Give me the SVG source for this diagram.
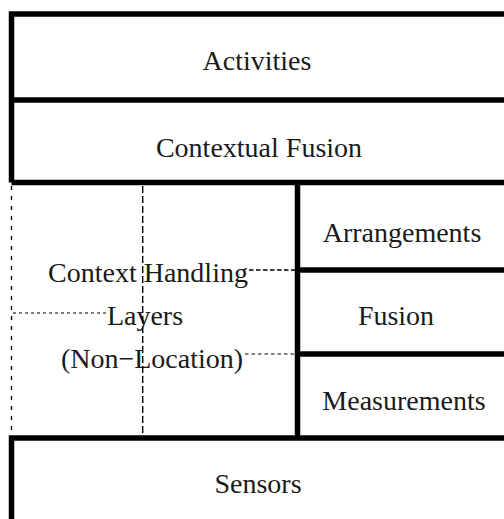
<svg xmlns="http://www.w3.org/2000/svg" width="504" height="519" viewBox="0 0 504 519">
<style>
.t{font-family:"Liberation Serif","Times New Roman",serif;font-size:28px;fill:#1a1a1a;text-anchor:middle}
.th{stroke:#000;stroke-width:5.5;fill:none}
.d{stroke:#000;fill:none}
</style>
<rect width="504" height="519" fill="#fff"/>
<g id="activities">
<text class="t" x="257" y="70">Activities</text>
</g>
<g id="contextual-fusion">
<text class="t" x="259" y="157">Contextual Fusion</text>
</g>
<g id="context-handling">
<text class="t" x="148" y="282">Context Handling</text>
<text class="t" x="145" y="325">Layers</text>
<text class="t" x="152" y="368">(Non−Location)</text>
</g>
<g id="arrangements">
<text class="t" x="402" y="242">Arrangements</text>
</g>
<g id="fusion">
<text class="t" x="396" y="325">Fusion</text>
</g>
<g id="measurements">
<text class="t" x="404" y="410">Measurements</text>
</g>
<g id="sensors">
<text class="t" x="258" y="493">Sensors</text>
</g>
<g id="connectors">
<path class="th" d="M11.5 182.5 V14 H510 M11.5 100 H510 M11.5 182.5 H510 M297.5 182.5 V438 M297.5 270 H510 M297.5 354 H510 M11.5 519 V438 H510"/>
<path class="d" stroke-width="1.4" stroke-dasharray="4 6" d="M11.5 186 V435"/>
<path class="d" stroke-width="1.4" stroke-dasharray="7 3" d="M142.7 186 V435"/>
<path class="d" stroke-width="1.6" stroke-dasharray="4.5 2.5" d="M249 270 H295"/>
<path class="d" stroke-width="1.2" stroke-dasharray="3.5 3" d="M245 354 H295"/>
<path class="d" stroke-width="1.2" stroke-dasharray="3 3" d="M13 313 H108"/>
</g>
</svg>
